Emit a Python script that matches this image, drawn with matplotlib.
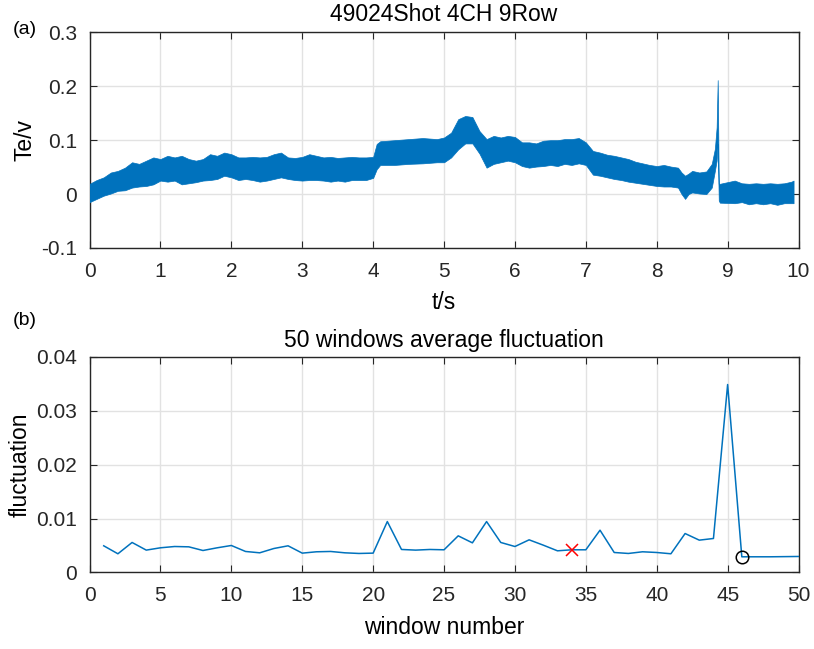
import numpy as np
import matplotlib
matplotlib.use('Agg')
import matplotlib.pyplot as plt

plt.rcParams['font.family'] = ['Liberation Sans', 'DejaVu Sans']

# (a) Te signal, read as upper/lower envelope of the dense trace
t_env = [0.0, 0.1, 0.2, 0.3, 0.4, 0.5, 0.6, 0.7, 0.8, 0.9,
         1.0, 1.1, 1.2, 1.3, 1.4, 1.5, 1.6, 1.7, 1.8, 1.9,
         2.0, 2.1, 2.2, 2.3, 2.4, 2.5, 2.6, 2.7, 2.8, 2.9,
         3.0, 3.1, 3.2, 3.3, 3.4, 3.5, 3.6, 3.7, 3.8, 3.9,
         4.0, 4.05, 4.1, 4.3, 4.5, 4.7, 4.9,
         5.0, 5.1, 5.2, 5.3, 5.4, 5.5, 5.6, 5.7, 5.8, 5.9,
         6.0, 6.1, 6.2, 6.3, 6.4, 6.5, 6.6, 6.7, 6.8, 6.9,
         7.0, 7.1, 7.2, 7.3, 7.4, 7.5, 7.6, 7.7, 7.8, 7.9,
         8.0, 8.1, 8.2, 8.3, 8.35, 8.4, 8.45, 8.5, 8.6, 8.7,
         8.776, 8.82, 8.845, 8.86, 8.875, 8.89,
         9.1, 9.2, 9.3, 9.4, 9.5, 9.6, 9.7, 9.8, 9.9, 9.93]
te_upper = [0.019, 0.026, 0.031, 0.040, 0.043, 0.049, 0.059, 0.056, 0.062, 0.068,
            0.065, 0.071, 0.068, 0.071, 0.065, 0.062, 0.065, 0.074, 0.071, 0.077,
            0.074, 0.068, 0.068, 0.069, 0.068, 0.069, 0.074, 0.077, 0.068, 0.067,
            0.069, 0.074, 0.071, 0.068, 0.069, 0.067, 0.068, 0.069, 0.068, 0.068,
            0.069, 0.093, 0.098, 0.100, 0.102, 0.104, 0.102,
            0.105, 0.114, 0.139, 0.145, 0.143, 0.117, 0.102, 0.108, 0.105, 0.108,
            0.106, 0.096, 0.096, 0.094, 0.099, 0.100, 0.100, 0.102, 0.102, 0.104,
            0.096, 0.080, 0.077, 0.073, 0.071, 0.068, 0.065, 0.060, 0.057, 0.054,
            0.052, 0.054, 0.051, 0.049, 0.040, 0.034, 0.038, 0.043, 0.040, 0.042,
            0.056, 0.084, 0.124, 0.2115, 0.019, 0.019,
            0.025, 0.020, 0.019, 0.020, 0.019, 0.020, 0.019, 0.020, 0.023, 0.025]
te_lower = [-0.015, -0.009, -0.003, 0.001, 0.006, 0.007, 0.012, 0.014, 0.015, 0.018,
            0.025, 0.023, 0.025, 0.018, 0.020, 0.022, 0.025, 0.026, 0.028, 0.034,
            0.031, 0.026, 0.028, 0.026, 0.023, 0.025, 0.028, 0.031, 0.028, 0.026,
            0.025, 0.026, 0.026, 0.025, 0.023, 0.025, 0.023, 0.026, 0.026, 0.026,
            0.030, 0.046, 0.054, 0.054, 0.056, 0.057, 0.059,
            0.059, 0.068, 0.083, 0.094, 0.094, 0.075, 0.049, 0.056, 0.059, 0.062,
            0.059, 0.052, 0.049, 0.051, 0.052, 0.054, 0.052, 0.056, 0.054, 0.057,
            0.054, 0.036, 0.034, 0.031, 0.028, 0.026, 0.023, 0.021, 0.019, 0.017,
            0.015, 0.014, 0.014, 0.012, 0.000, -0.009, 0.000, 0.003, 0.001, 0.000,
            0.012, 0.043, 0.062, 0.093, -0.012, -0.016,
            -0.017, -0.015, -0.019, -0.017, -0.019, -0.017, -0.020, -0.017, -0.017, -0.017]

# (b) average fluctuation per window
window = np.arange(1, 51)
fluct = [0.00494, 0.00346, 0.00556, 0.00414, 0.00457, 0.00481, 0.00475, 0.00407, 0.00457, 0.00500,
         0.00389, 0.00364, 0.00444, 0.00494, 0.00358, 0.00383, 0.00389, 0.00364, 0.00352, 0.00358,
         0.00944, 0.00426, 0.00414, 0.00426, 0.00420, 0.00679, 0.00549, 0.00944, 0.00556, 0.00481,
         0.00605, 0.00506, 0.00401, 0.00420, 0.00420, 0.00784, 0.00370, 0.00352, 0.00383, 0.00370,
         0.00346, 0.00722, 0.00599, 0.00630, 0.03488, 0.00290, 0.00290, 0.00290, 0.00293, 0.00296]
mark_x = 34
mark_o = 46

blue = '#0072BD'
axc = '#262626'

fig = plt.figure(figsize=(8.14, 6.49), dpi=100)
ax1 = fig.add_axes([0.110, 0.618, 0.871, 0.332])
ax2 = fig.add_axes([0.110, 0.118, 0.871, 0.332])

ax1.fill_between(t_env, te_lower, te_upper, color=blue, linewidth=0.5, edgecolor=blue, zorder=3)
ax1.set_xlim(0, 10)
ax1.set_ylim(-0.1, 0.3)
ax1.set_xticks(range(0, 11))
ax1.set_yticks([-0.1, 0, 0.1, 0.2, 0.3])
ax1.set_yticklabels(['-0.1', '0', '0.1', '0.2', '0.3'])
ax1.set_title('49024Shot 4CH 9Row', fontsize=16.5, pad=8)
ax1.set_xlabel('t/s', fontsize=16.5, labelpad=7)
ax1.set_ylabel('Te/v', fontsize=16.5, labelpad=3)

ax2.plot(window, fluct, color=blue, linewidth=1.1, zorder=3)
ax2.plot(mark_x, fluct[mark_x - 1], 'x', color='red', markersize=9, markeredgewidth=1.1, zorder=4)
ax2.plot(mark_o, fluct[mark_o - 1], 'o', mfc='none', mec='black', markersize=9, markeredgewidth=1.1, zorder=4)
ax2.set_xlim(0, 50)
ax2.set_ylim(0, 0.04)
ax2.set_xticks(range(0, 51, 5))
ax2.set_yticks([0, 0.01, 0.02, 0.03, 0.04])
ax2.set_yticklabels(['0', '0.01', '0.02', '0.03', '0.04'])
ax2.set_title('50 windows average fluctuation', fontsize=16.5, pad=7.5)
ax2.set_xlabel('window number', fontsize=16.5, labelpad=8)
ax2.set_ylabel('fluctuation', fontsize=16.5, labelpad=3)

for ax in (ax1, ax2):
    ax.grid(True, color='#e2e2e2', linewidth=1.0, zorder=0)
    ax.set_axisbelow(True)
    ax.tick_params(direction='in', top=True, right=True, length=5, width=0.8,
                   color=axc, labelsize=15, labelcolor=axc)
    ax.tick_params(axis='x', pad=10)
    ax.tick_params(axis='y', pad=9)
    for sp in ax.spines.values():
        sp.set_color(axc)
        sp.set_linewidth(1.0)

fig.text(0.016, 0.955, '(a)', fontsize=14, va='center', ha='left')
fig.text(0.016, 0.506, '(b)', fontsize=14, va='center', ha='left')

plt.savefig('out.png', dpi=100)
